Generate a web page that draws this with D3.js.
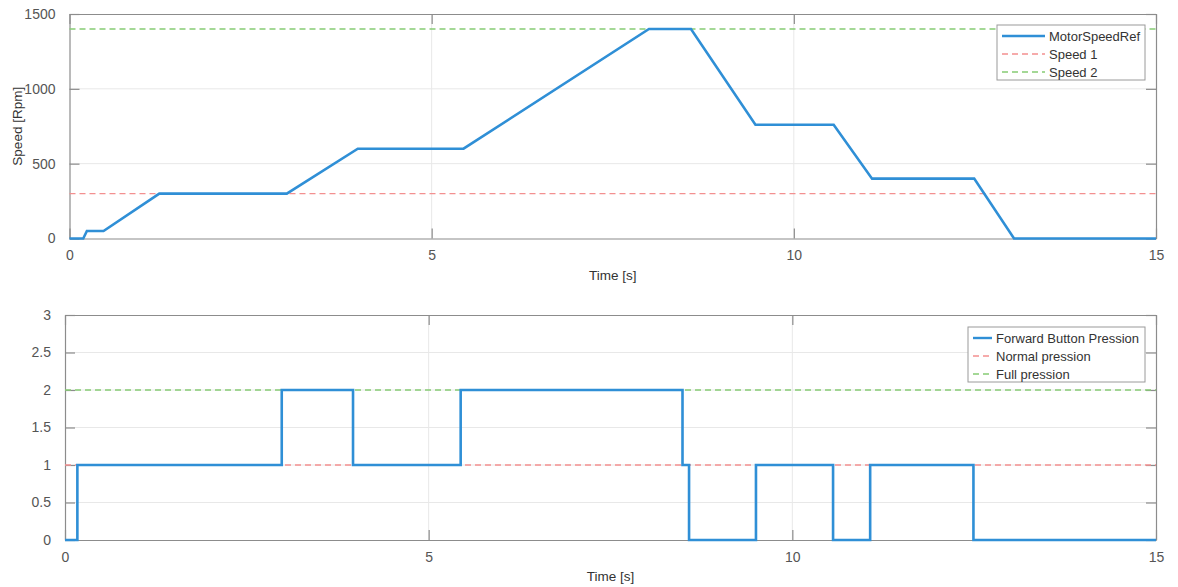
<!DOCTYPE html>
<html>
<head>
<meta charset="utf-8">
<script src="https://cdn.jsdelivr.net/npm/d3@7"></script>
<style>
  html, body { margin: 0; padding: 0; background: #fff; }
  svg { display: block; font-family: "Liberation Sans", Arial, Helvetica, sans-serif; }
</style>
</head>
<body>
<svg id="chart" width="1178" height="587"></svg>
<script>
// Motor speed reference profile (time [s], speed [rpm])
const speedTime  = [0, 0.19, 0.24, 0.47, 1.24, 3.0, 3.98, 5.44, 8.0, 8.58, 9.47, 10.55, 11.08, 12.49, 13.04, 15];
const speedValue = [0, 0,    50,   50,   300,  300, 600,  600,  1400, 1400, 760, 760,   400,   400,   0,     0];
const speedLevels = [300, 1400];            // Speed 1, Speed 2
const speedTicksY = [0, 500, 1000, 1500];

// Forward button pression (step signal)
const pressTime  = [0, 0.17, 0.17, 2.98, 2.98, 3.96, 3.96, 5.44, 5.44, 8.49, 8.49, 8.58, 8.58, 9.5, 9.5, 10.56, 10.56, 11.07, 11.07, 12.49, 12.49, 15];
const pressValue = [0, 0,    1,    1,    2,    2,    1,    1,    2,    2,    1,    1,    0,    0,   1,   1,     0,     0,     1,     1,     0,     0];
const pressLevels = [1, 2];                 // Normal pression, Full pression
const pressTicksY = [0, 0.5, 1, 1.5, 2, 2.5, 3];

const timeTicks = [0, 5, 10, 15];

const svg = d3.select("#chart");
const BLUE = "#2f8fd6", RED = "#f39090", GREEN = "#86cc74";
const AXIS = "#8c8c8c", TEXT = "#555", GRID = "#e8e8e8";

function panel(cfg) {
  const x = d3.scaleLinear().domain([0, 15]).range([cfg.left, cfg.right]);
  const y = d3.scaleLinear().domain(cfg.yDomain).range([cfg.bottom, cfg.top]);
  const g = svg.append("g");

  // grid
  g.append("g").selectAll("line").data(timeTicks.slice(1, -1)).join("line")
    .attr("x1", d => x(d)).attr("x2", d => x(d))
    .attr("y1", cfg.top).attr("y2", cfg.bottom)
    .attr("stroke", GRID).attr("stroke-width", 1);
  g.append("g").selectAll("line").data(cfg.yTicks.slice(1, -1)).join("line")
    .attr("x1", cfg.left).attr("x2", cfg.right)
    .attr("y1", d => y(d)).attr("y2", d => y(d))
    .attr("stroke", GRID).attr("stroke-width", 1);

  // axes (ticks pointing inward, box on)
  const tl = 10;
  const ax = g.append("g").attr("transform", `translate(0,${cfg.bottom})`)
    .call(d3.axisBottom(x).tickValues(timeTicks).tickSizeInner(-tl).tickSizeOuter(0).tickPadding(12).tickFormat(d3.format("d")));
  const axTop = g.append("g").attr("transform", `translate(0,${cfg.top})`)
    .call(d3.axisTop(x).tickValues(timeTicks).tickSizeInner(-tl).tickSizeOuter(0).tickFormat(""));
  const ay = g.append("g").attr("transform", `translate(${cfg.left},0)`)
    .call(d3.axisLeft(y).tickValues(cfg.yTicks).tickSizeInner(-tl).tickSizeOuter(0).tickPadding(14).tickFormat(cfg.yFormat));
  const ayR = g.append("g").attr("transform", `translate(${cfg.right},0)`)
    .call(d3.axisRight(y).tickValues(cfg.yTicks).tickSizeInner(-tl).tickSizeOuter(0).tickFormat(""));
  [ax, axTop, ay, ayR].forEach(a => {
    a.select(".domain").attr("stroke", AXIS).attr("stroke-width", 1.2);
    a.selectAll(".tick line").attr("stroke", AXIS).attr("stroke-width", 1.2);
    a.selectAll(".tick text").attr("fill", TEXT).attr("font-size", 14);
  });

  // reference levels
  cfg.levels.forEach((lv, i) => {
    g.append("line")
      .attr("x1", cfg.left).attr("x2", cfg.right)
      .attr("y1", y(lv)).attr("y2", y(lv))
      .attr("stroke", i === 0 ? RED : GREEN).attr("stroke-width", 1.4)
      .attr("stroke-dasharray", "6,4");
  });

  // signal
  const line = d3.line().x(d => x(d[0])).y(d => y(d[1]));
  g.append("path")
    .datum(cfg.t.map((t, i) => [t, cfg.v[i]]))
    .attr("d", line)
    .attr("fill", "none").attr("stroke", BLUE).attr("stroke-width", 2.6)
    .attr("stroke-linejoin", "miter");

  // labels
  g.append("text").attr("x", (cfg.left + cfg.right) / 2).attr("y", cfg.bottom + 41)
    .attr("text-anchor", "middle").attr("fill", "#333").attr("font-size", 13.5).text("Time [s]");
  if (cfg.yLabel) {
    g.append("text")
      .attr("transform", `translate(22,${(cfg.top + cfg.bottom) / 2}) rotate(-90)`)
      .attr("text-anchor", "middle").attr("fill", "#333").attr("font-size", 13.5).text(cfg.yLabel);
  }

  // legend
  const L = cfg.legend;
  const lg = g.append("g");
  lg.append("rect").attr("x", L.x).attr("y", L.y).attr("width", L.w).attr("height", L.h)
    .attr("fill", "#fff").attr("stroke", "#9a9a9a").attr("stroke-width", 1);
  L.items.forEach((name, i) => {
    const yy = L.y + 11 + i * 18;
    lg.append("line").attr("x1", L.x + 5).attr("x2", L.x + L.lineW)
      .attr("y1", yy).attr("y2", yy)
      .attr("stroke", [BLUE, RED, GREEN][i])
      .attr("stroke-width", i === 0 ? 2.4 : 1.3)
      .attr("stroke-dasharray", i === 0 ? null : "6,4");
    lg.append("text").attr("x", L.x + L.lineW + 4).attr("y", yy + 4.5)
      .attr("fill", "#333").attr("font-size", 13).text(name);
  });
}

panel({
  left: 69.5, right: 1156, top: 14, bottom: 238.5,
  yDomain: [0, 1500], yTicks: speedTicksY, yFormat: d3.format("d"),
  levels: speedLevels, t: speedTime, v: speedValue, yLabel: "Speed [Rpm]",
  legend: { x: 997, y: 25, w: 148, h: 55, lineW: 48,
            items: ["MotorSpeedRef", "Speed 1", "Speed 2"] }
});

panel({
  left: 65, right: 1156, top: 315, bottom: 540,
  yDomain: [0, 3], yTicks: pressTicksY, yFormat: d => String(d),
  levels: pressLevels, t: pressTime, v: pressValue, yLabel: null,
  legend: { x: 968, y: 327, w: 177, h: 55, lineW: 24,
            items: ["Forward Button Pression", "Normal pression", "Full pression"] }
});
</script>
</body>
</html>
